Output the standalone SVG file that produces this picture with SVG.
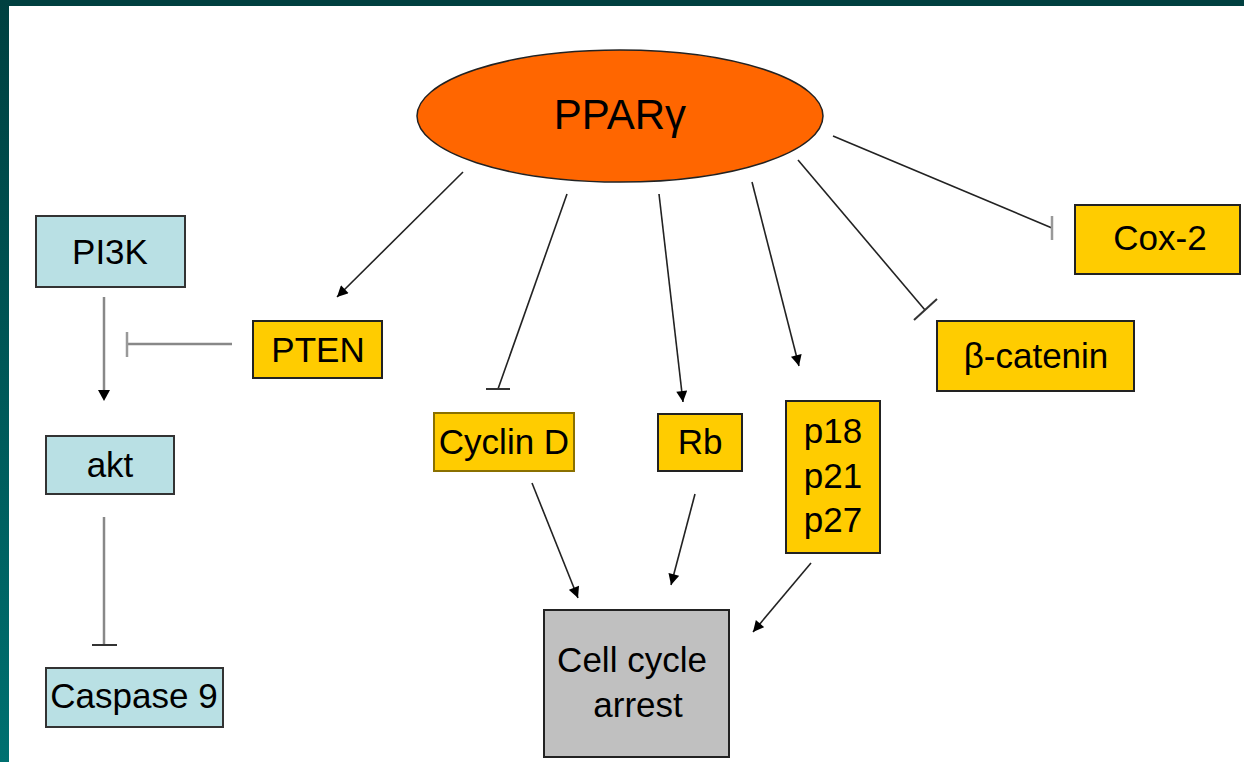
<svg xmlns="http://www.w3.org/2000/svg" width="1244" height="762" viewBox="0 0 1244 762">
<defs>
<linearGradient id="side" x1="0" y1="0" x2="0" y2="1">
<stop offset="0" stop-color="#004040"/>
<stop offset="1" stop-color="#007070"/>
</linearGradient>
<marker id="arr" viewBox="0 0 10 10" refX="10" refY="5" markerWidth="12" markerHeight="11" markerUnits="userSpaceOnUse" orient="auto">
<path d="M0,0 L10,5 L0,10 z" fill="#000"/>
</marker>
<style>
text{font-family:"Liberation Sans",Arial,sans-serif;font-size:35px;fill:#000;text-anchor:middle}
.blue{fill:#b9e0e4;stroke:#333;stroke-width:2}
.gold{fill:#ffcc00;stroke:#222;stroke-width:2}
.grey{fill:#c0c0c0;stroke:#222;stroke-width:2}
.dk{stroke:#222;stroke-width:1.6;fill:none}
.lt{stroke:#888;stroke-width:2.5;fill:none}
.bar{stroke:#333;stroke-width:2}
.lbar{stroke:#999;stroke-width:2.5}
</style>
</defs>
<rect x="0" y="0" width="1244" height="762" fill="#fff"/>
<rect x="0" y="0" width="1244" height="6" fill="#004040"/>
<rect x="0" y="0" width="9" height="762" fill="url(#side)"/>

<g id="connectors">
<line class="dk" x1="463" y1="172" x2="337" y2="297" marker-end="url(#arr)"/>
<line class="dk" x1="567" y1="194" x2="498" y2="389"/>
<line class="bar" x1="486" y1="389" x2="510" y2="389"/>
<line class="dk" x1="659" y1="194" x2="683" y2="402" marker-end="url(#arr)"/>
<line class="dk" x1="752" y1="182" x2="799" y2="366" marker-end="url(#arr)"/>
<line class="dk" x1="798" y1="160" x2="925" y2="310"/>
<line class="bar" x1="914" y1="320" x2="937" y2="299"/>
<line class="dk" x1="833" y1="136" x2="1052" y2="228"/>
<line class="lbar" x1="1052" y1="216" x2="1052" y2="240"/>
<line class="lt" x1="104" y1="297" x2="104" y2="392"/>
<path d="M98,390 L110,390 L104,401 z" fill="#000"/>
<line class="lt" x1="232" y1="344" x2="127" y2="344"/>
<line class="lbar" x1="127" y1="332" x2="127" y2="357"/>
<line class="lt" x1="104" y1="517" x2="104" y2="645"/>
<line class="bar" x1="92" y1="645" x2="117" y2="645"/>
<line class="dk" x1="532" y1="483" x2="578" y2="598" marker-end="url(#arr)"/>
<line class="dk" x1="695" y1="494" x2="671" y2="585" marker-end="url(#arr)"/>
<line class="dk" x1="811" y1="563" x2="753" y2="632" marker-end="url(#arr)"/>
</g>

<g id="ppar">
<ellipse cx="620" cy="116" rx="203" ry="66" fill="#ff6600" stroke="#222" stroke-width="1.5"/>
<text x="620" y="129" style="font-size:42px">PPARγ</text>
</g>
<g id="pi3k">
<rect class="blue" x="36" y="216" width="149" height="71"/>
<text x="110" y="264">PI3K</text>
</g>
<g id="pten">
<rect class="gold" x="253" y="321" width="129" height="57"/>
<text x="318" y="362">PTEN</text>
</g>
<g id="akt">
<rect class="blue" x="46" y="436" width="128" height="58"/>
<text x="110" y="477">akt</text>
</g>
<g id="caspase9">
<rect class="blue" x="46" y="668" width="177" height="59"/>
<text x="134" y="708">Caspase 9</text>
</g>
<g id="cyclinD">
<rect class="gold" x="434" y="413" width="140" height="58" style="stroke:#8a7000"/>
<text x="504" y="454">Cyclin D</text>
</g>
<g id="rb">
<rect class="gold" x="658" y="414" width="84" height="57"/>
<text x="700" y="454">Rb</text>
</g>
<g id="p18">
<rect class="gold" x="786" y="401" width="94" height="152"/>
<text x="833" y="443">p18</text>
<text x="833" y="488">p21</text>
<text x="833" y="532">p27</text>
</g>
<g id="cellcycle">
<rect class="grey" x="544" y="610" width="185" height="147"/>
<text x="632" y="672">Cell cycle</text>
<text x="638" y="717">arrest</text>
</g>
<g id="cox2">
<rect class="gold" x="1075" y="205" width="165" height="69"/>
<text x="1160" y="250">Cox-2</text>
</g>
<g id="bcatenin">
<rect class="gold" x="937" y="321" width="197" height="70"/>
<text x="1036" y="368">β-catenin</text>
</g>
</svg>
